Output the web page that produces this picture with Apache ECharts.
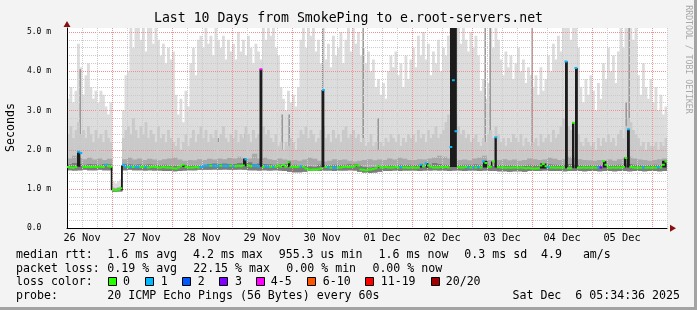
<!DOCTYPE html>
<html><head><meta charset="utf-8">
<script src="https://cdn.jsdelivr.net/npm/echarts@6/dist/echarts.min.js"></script>
<style>html,body{margin:0;padding:0;background:#f3f3f3}#c{width:697px;height:310px}</style>
</head><body><div id="c"></div>
<script>
// ---- time axis: hours relative to 27 Nov 00:00 ----
const startHour = -18;           // 26 Nov 06:00
const endHour = 222;             // 06 Dec 06:00
const dayLabels = ['26 Nov','27 Nov','28 Nov','29 Nov','30 Nov','01 Dec','02 Dec','03 Dec','04 Dec','05 Dec'];
const yTickLabels = ['0.0  ','1.0 m','2.0 m','3.0 m','4.0 m','5.0 m'];

// ---- smoke: hourly upper envelope (max of 20 pings), ms ----
const smokeMax = [
 3.3,3.6,3.2,3.5,4.7,4.1,3.4,3.9,4.2,3.6,3.3,3.5,3.2,3.5,3.4,3.1,2.9,3.2,
 1.2,1.15,1.2,1.25,3.0,3.9,4.0,5.1,4.6,5.1,5.1,4.8,5.1,4.5,5.1,5.1,4.7,5.1,4.8,4.4,4.7,4.2,4.6,4.3,
 4.5,3.4,2.9,3.3,2.7,3.5,3.1,4.2,4.6,3.9,4.8,4.9,4.6,5.1,4.7,4.9,4.4,5.1,4.8,4.6,4.9,4.3,4.8,4.5,
 4.7,4.3,5.0,4.5,4.8,4.4,4.9,4.6,4.2,4.7,4.5,4.3,5.1,4.8,5.1,4.9,5.1,4.6,4.4,3.6,3.3,3.0,3.5,3.2,
 3.4,3.1,3.6,4.8,5.1,4.6,5.1,4.9,5.1,4.5,4.8,4.2,5.1,4.3,4.7,4.1,4.9,4.4,4.6,5.0,4.2,4.8,5.1,4.5,
 5.1,4.7,5.0,4.4,4.6,4.2,4.5,4.0,4.3,3.6,3.8,3.4,3.7,3.3,4.0,4.4,4.1,4.5,3.9,4.2,3.6,4.4,3.8,4.3,
 4.6,4.1,4.9,4.4,5.0,4.3,4.7,3.9,4.5,4.2,4.8,4.0,4.6,4.4,4.9,5.1,5.1,5.1,5.1,4.7,5.1,4.8,4.5,5.0,
 4.6,4.9,4.4,3.5,3.8,3.3,3.7,5.1,4.6,5.1,4.8,4.3,3.9,4.5,4.1,4.4,3.8,4.2,4.6,4.0,4.3,3.7,4.1,3.9,
 3.6,3.9,3.4,4.1,3.5,3.8,4.4,4.0,4.7,4.3,4.9,4.5,5.1,5.1,5.1,4.8,5.1,5.1,4.6,3.6,3.2,3.8,3.4,3.9,
 3.5,3.0,3.7,3.3,4.2,3.8,4.6,4.0,4.4,3.7,4.5,5.1,4.6,5.1,5.1,5.1,4.8,5.1,3.9,3.4,4.2,3.6,3.3,3.8,
 3.2,3.6,3.0,3.4,2.9,3.1
];
// hourly top of the denser smoke band
const smokeHi = [
 2.4,2.6,2.3,2.5,2.7,2.4,2.5,2.3,2.6,2.4,2.2,2.5,2.3,2.4,2.2,2.5,2.3,2.2,
 1.05,1.03,1.05,1.08,2.3,2.5,2.6,2.4,2.8,2.5,2.3,2.6,2.4,2.7,2.3,2.5,2.4,2.2,2.6,2.3,2.4,2.2,2.5,2.3,
 2.2,2.1,2.3,2.0,2.2,2.4,2.1,2.3,2.5,2.2,2.4,2.6,2.3,2.5,2.2,2.4,2.3,2.5,2.2,2.4,2.6,2.3,2.2,2.4,
 2.3,2.5,2.2,2.4,2.3,2.6,2.4,2.2,2.5,2.3,2.4,2.2,2.6,2.4,2.5,2.3,2.2,2.4,2.1,2.2,2.0,2.2,2.1,2.3,
 2.2,2.0,2.3,2.5,2.4,2.6,2.3,2.5,2.4,2.2,2.3,2.5,2.6,2.3,2.4,2.2,2.5,2.3,2.4,2.2,2.5,2.6,2.3,2.4,
 2.5,2.3,2.4,2.2,2.3,2.1,2.2,2.4,2.1,2.2,2.0,2.2,2.1,2.3,2.2,2.4,2.3,2.2,2.4,2.1,2.3,2.2,2.4,2.3,
 2.4,2.2,2.5,2.3,2.4,2.2,2.5,2.3,2.4,2.6,2.3,2.4,2.5,2.7,2.9,2.8,3.0,2.9,2.6,2.4,2.5,2.3,2.4,2.2,
 2.3,2.4,2.2,2.1,2.3,2.2,2.4,2.5,2.3,2.6,2.4,2.2,2.3,2.1,2.3,2.2,2.4,2.3,2.2,2.4,2.1,2.3,2.2,2.1,
 2.2,2.3,2.1,2.4,2.2,2.3,2.4,2.2,2.5,2.3,2.4,2.6,2.8,2.7,2.6,2.5,2.6,2.7,2.4,2.2,2.1,2.3,2.2,2.1,
 2.2,2.0,2.3,2.1,2.3,2.2,2.4,2.2,2.3,2.1,2.4,2.5,2.3,2.6,2.8,2.7,2.5,2.4,2.3,2.1,2.2,2.0,2.2,2.1,
 2.1,2.2,2.0,2.2,2.1,2.3
];
// 2-hourly bands
const smokeMid = [
 1.78,1.85,1.8,1.76,1.8,1.75,1.78,1.74,1.77, 1.02,1.04,
 1.76,1.8,1.75,1.78,1.74,1.77,1.75,1.73,1.76,1.78,
 1.8,1.75,1.72,1.74,1.73,1.76,1.74,1.77,1.75,1.78,1.76,1.79,
 1.78,1.82,1.76,1.78,1.9,1.78,1.8,1.76,1.74,1.78,1.75,1.73,
 1.74,1.72,1.75,1.8,1.77,1.72,1.7,1.72,1.76,1.74,1.75,1.72,
 1.7,1.72,1.74,1.76,1.73,1.75,1.74,1.78,1.75,1.8,1.77,1.74,
 1.74,1.76,1.75,1.78,1.8,1.85,1.82,1.78,1.76,1.74,1.75,1.73,
 1.78,1.8,1.85,1.74,1.72,1.74,1.76,1.73,1.75,1.72,1.74,1.78,
 1.76,1.74,1.75,1.8,1.77,1.74,1.76,1.82,1.8,1.76,1.74,1.73,
 1.72,1.74,1.73,1.75,1.72,1.76,1.8,1.82,1.78,1.75,1.74,1.72,
 1.74,1.76,1.78
];
const smokeDark = [
 1.63,1.66,1.64,1.62,1.64,1.63,1.62,1.64,1.63, 1.0,1.01,
 1.64,1.63,1.62,1.63,1.62,1.63,1.62,1.61,1.62,1.6,
 1.6,1.58,1.61,1.6,1.61,1.6,1.62,1.64,1.65,1.64,1.65,1.64,
 1.64,1.66,1.65,1.68,1.64,1.65,1.64,1.63,1.62,1.63,1.64,1.62,
 1.62,1.6,1.59,1.58,1.57,1.62,1.61,1.6,1.62,1.61,1.62,1.63,
 1.63,1.6,1.56,1.55,1.56,1.57,1.6,1.61,1.6,1.62,1.61,1.62,
 1.61,1.62,1.61,1.62,1.66,1.64,1.62,1.61,1.62,1.61,1.62,1.62,
 1.63,1.62,1.64,1.61,1.6,1.61,1.6,1.61,1.6,1.59,1.6,1.62,
 1.61,1.6,1.61,1.63,1.62,1.61,1.62,1.64,1.62,1.61,1.6,1.61,
 1.6,1.61,1.62,1.6,1.61,1.62,1.63,1.64,1.62,1.61,1.6,1.61,
 1.62,1.61,1.64
];
const smokeMin = [
 1.48,1.47,1.48,1.49,1.48,1.48,1.49,1.48,1.48, 0.93,0.94,
 1.48,1.49,1.48,1.48,1.47,1.48,1.47,1.47,1.46,1.46,
 1.45,1.46,1.47,1.48,1.48,1.49,1.49,1.49,1.5,1.49,1.5,1.49,
 1.49,1.5,1.49,1.48,1.48,1.47,1.48,1.47,1.48,1.47,1.46,1.44,
 1.43,1.43,1.44,1.46,1.47,1.46,1.47,1.47,1.46,1.47,1.47,1.48,
 1.47,1.44,1.42,1.41,1.42,1.44,1.46,1.46,1.47,1.46,1.47,1.47,
 1.47,1.46,1.47,1.47,1.48,1.47,1.47,1.46,1.47,1.47,1.46,1.47,
 1.47,1.46,1.47,1.46,1.46,1.45,1.45,1.44,1.45,1.45,1.44,1.46,
 1.46,1.46,1.47,1.46,1.46,1.46,1.45,1.46,1.46,1.46,1.45,1.46,
 1.46,1.45,1.46,1.46,1.45,1.46,1.46,1.45,1.46,1.46,1.45,1.46,
 1.46,1.45,1.46
];
// ---- median rtt, hourly, ms ----
const medianRtt = [
 1.56,1.55,1.54,1.56,1.95,1.92,1.57,1.56,1.57,1.56,1.57,1.56,1.57,1.57,1.56,1.62,1.58,1.57,
 0.98,0.97,0.98,1.02,1.62,1.57,1.56,1.57,1.56,1.57,1.57,1.56,1.57,1.56,1.55,1.56,1.57,1.56,1.55,1.55,1.56,1.55,1.55,1.54,
 1.53,1.52,1.55,1.58,1.62,1.56,1.55,1.55,1.55,1.56,1.55,1.56,1.58,1.59,1.59,1.59,1.59,1.58,1.59,1.59,1.59,1.58,1.59,1.59,
 1.58,1.58,1.59,1.58,1.6,1.75,1.6,1.58,1.59,1.59,1.58,4.05,1.57,1.58,1.57,1.57,1.57,1.57,1.6,1.57,1.61,1.57,1.68,1.57,
 1.57,1.56,1.57,1.58,1.57,1.52,1.5,1.49,1.5,1.5,1.5,1.52,3.52,1.56,1.55,1.54,1.55,1.54,1.55,1.55,1.56,1.57,1.56,1.57,
 1.57,1.6,1.59,1.5,1.49,1.48,1.49,1.5,1.51,1.53,1.58,1.55,1.55,1.56,1.55,1.55,1.55,1.56,1.55,1.56,1.55,1.55,1.54,1.55,
 1.55,1.54,1.55,1.62,1.58,1.65,1.6,1.57,1.55,1.55,1.55,1.56,1.55,1.56,1.55,2.07,3.77,2.47,1.56,1.55,1.55,1.56,1.55,1.55,
 1.55,1.55,1.56,1.55,1.7,1.66,1.56,1.57,1.7,2.32,1.56,1.55,1.55,1.54,1.55,1.54,1.55,1.55,1.54,1.55,1.54,1.53,1.54,1.53,
 1.52,1.52,1.53,1.6,1.64,1.58,1.56,1.55,1.55,1.54,1.55,1.54,1.55,4.25,1.53,1.53,2.69,4.08,1.54,1.54,1.55,1.54,1.55,1.54,
 1.55,1.54,1.55,1.55,1.71,1.62,1.55,1.54,1.55,1.54,1.55,1.54,1.56,1.79,2.52,1.56,1.55,1.54,1.55,1.54,1.55,1.54,1.55,1.54,
 1.55,1.54,1.56,1.55,1.62,1.7
];
// hour index -> loss colour class (all others are class 0)
const lossPoints = [
 [4,1],[5,1],[15,1],[22,1],[23,1],[25,1],[27,1],[28,1],[31,1],
 [53,1],[54,1],[55,1],[56,1],[58,1],[59,1],[60,1],[62,1],[63,1],[64,1],[66,1],
 [71,1],[74,1],[75,1],[76,1],[77,4],[79,1],[80,1],[82,1],
 [93,1],[102,1],[104,1],[106,1],[107,1],[133,1],[141,1],[143,1],
 [153,1],[154,1],[155,1],[160,1],[162,1],[164,1],[166,1],[171,1],
 [192,1],[199,1],[203,1],[212,1],[213,3],[224,1],[230,1],[236,1]
];
// dark smoke columns: [fromHour, toHour, low, high]
const darkSpikes = [
 [-14,-12.8,1.57,1.95],[-0.5,0,0.97,1.57],[3.6,4.2,0.97,1.6],[28,29.2,1.56,1.62],
 [52.4,53.6,1.58,1.78],[59,60,1.57,4.05],[68,68.4,1.56,1.62],[70.4,71.2,1.56,1.7],
 [83.8,84.8,1.56,3.52],[97.6,98.4,1.56,1.62],[106.4,106.8,1.55,1.6],[123.2,124,1.55,1.64],
 [125.6,126.4,1.55,1.66],[135.2,137.8,1.56,5.1],[148.4,150,1.55,1.72],[151.6,152,1.55,1.7],
 [153,153.8,1.55,2.32],[171.2,173.6,1.52,1.65],[181.2,182.2,1.53,4.25],[184,184.8,1.53,2.69],
 [185.2,186.2,1.53,4.08],[196.4,197.6,1.55,1.71],[204.8,205.6,1.55,1.8],[206,207,1.55,2.52],
 [220,221.6,1.55,1.72]
];
// thin grey streaks: [hour, top]
const streaks = [
 [-12.8,4.05],[42.4,2.3],[53.2,2.4],[68,2.9],[70.8,2.9],[84.2,5.1],[100.4,5.1],[106.4,2.8],
 [149.2,5.1],[151.2,5.1],[168,5.1],[205.6,3.2],[206.8,5.1]
];
const lossColors = ['#26ff00','#00b8ff','#0059ff','#7e00ff','#ff00ff','#ff5500','#ff0000','#a10000'];
const lossLabels = ['0','1','2','3','4-5','6-10','11-19','20/20'];

// ---- build series data ----
const lossClass = medianRtt.map(() => 0);
lossPoints.forEach(p => { lossClass[p[0]] = p[1]; });
const hourly = (arr) => arr.map((v, i) => [startHour + i, startHour + i + 1, smokeMin[Math.floor(i / 2)], v]);
const twoHourly = (arr) => arr.map((v, i) => [startHour + 2 * i, startHour + 2 * i + 2, smokeMin[i], v]);
const streakData = streaks.map(s => [s[0] - 0.2, s[0] + 0.2, smokeMin[Math.floor((s[0] - startHour) / 2)], s[1]]);
const medianData = medianRtt.map((v, i) => [startHour + i, startHour + i + 1, v, lossClass[i]]);

const MONO = '"DejaVu Sans Mono", monospace';
function rangeSeries(data, color, z) {
  return {
    type: 'custom', data: data, z: z, silent: true, clip: true,
    encode: { x: [0, 1], y: [2, 3] },
    renderItem: function (params, api) {
      const a = api.coord([api.value(0), api.value(3)]);
      const b = api.coord([api.value(1), api.value(2)]);
      return { type: 'rect', shape: { x: a[0], y: a[1], width: b[0] - a[0] + 0.35, height: b[1] - a[1] }, style: { fill: color } };
    }
  };
}
const medianSeries = {
  type: 'custom', data: medianData, z: 10, silent: true, clip: true,
  encode: { x: [0, 1], y: [2] },
  renderItem: function (params, api) {
    const a = api.coord([api.value(0), api.value(2)]);
    const b = api.coord([api.value(1), api.value(2)]);
    return { type: 'rect', shape: { x: a[0], y: a[1] - 1, width: b[0] - a[0] + 0.3, height: 2 }, style: { fill: lossColors[api.value(3)] } };
  }
};

// ---- text / legend graphics ----
function txt(x, y, s, opts) {
  opts = opts || {};
  return { type: 'text', x: x, y: y, rotation: opts.rot || 0, z: 100,
    style: { text: s, fill: opts.fill || '#000', font: (opts.size || 11.6) + 'px ' + MONO,
      align: opts.align || 'left', textAlign: opts.align || 'left', verticalAlign: 'middle', textVerticalAlign: 'middle' } };
}
const L1 = 255, L2 = 268.5, L3 = 282, L4 = 296;
const graphics = [
  { type: 'rect', shape: { x: 694, y: 0, width: 3, height: 310 }, style: { fill: '#a3a3a3' }, z: 100 },
  { type: 'rect', shape: { x: 0, y: 307, width: 697, height: 3 }, style: { fill: '#a3a3a3' }, z: 100 },
  txt(348.5, 19, 'Last 10 Days from SmokePing to e.root-servers.net', { align: 'center', size: 13.2 }),
  txt(10.5, 127.5, 'Seconds', { align: 'center', rot: Math.PI / 2 }),
  txt(688, 59.5, 'RRDTOOL / TOBI OETIKER', { align: 'center', rot: -Math.PI / 2, size: 8.2, fill: '#a8a8a8' }),
  txt(16, L1, 'median rtt:'), txt(107.3, L1, '1.6 ms avg'), txt(193, L1, '4.2 ms max'),
  txt(278.7, L1, '955.3 us min'), txt(378.6, L1, '1.6 ms now'), txt(464.3, L1, '0.3 ms sd'), txt(541, L1, '4.9   am/s'),
  txt(16, L2, 'packet loss:'), txt(107.3, L2, '0.19 % avg'), txt(193.2, L2, '22.15 % max'),
  txt(286.3, L2, '0.00 % min'), txt(372.4, L2, '0.00 % now'),
  txt(16, L3, 'loss color:'),
  txt(16, L4, 'probe:'), txt(107.3, L4, '20 ICMP Echo Pings (56 Bytes) every 60s'),
  txt(680, L4, 'Sat Dec  6 05:34:36 2025', { align: 'right' })
];
const boxX = [108.5, 145.5, 182.5, 219.5, 256.5, 307.5, 365.5, 431.5];
const labX = [123, 160.7, 197.7, 235, 270.7, 322.7, 380.7, 445.7];
lossLabels.forEach((l, i) => {
  graphics.push({ type: 'rect', z: 100, shape: { x: boxX[i], y: 277.5, width: 8, height: 8 }, style: { fill: lossColors[i], stroke: '#000', lineWidth: 1 } });
  graphics.push(txt(labX[i], L3, l));
});

const chart = echarts.init(document.getElementById('c'), null, { renderer: 'canvas' });
chart.setOption({
  animation: false,
  backgroundColor: '#f3f3f3',
  grid: { left: 67, right: 30, top: 28, bottom: 81.7, show: true, backgroundColor: '#ffffff', borderWidth: 0 },
  xAxis: [{
    type: 'value', min: startHour, max: endHour, interval: 6, z: 5,
    axisLine: { show: true, onZero: false, lineStyle: { color: '#000', width: 1 } },
    axisTick: { show: false },
    axisLabel: { margin: 5, color: '#000', fontFamily: MONO, fontSize: 10.3,
      formatter: v => { const r = ((v % 24) + 24) % 24; return r === 12 ? (dayLabels[(v + 12) / 24] || '') : ''; } },
    splitLine: { show: true, lineStyle: { color: ['#cccccc', '#cccccc', '#cccccc', '#f29090'], type: [1, 1], width: 1 } }
  }, {
    type: 'value', min: startHour, max: endHour, position: 'bottom', z: 6,
    axisLine: { show: true, onZero: false, symbol: ['none', 'triangle'], symbolSize: [7, 6], symbolOffset: [0, 6], lineStyle: { color: '#8a1010', width: 0 } },
    axisTick: { show: false }, axisLabel: { show: false }, splitLine: { show: false }
  }],
  yAxis: [{
    type: 'value', min: 0, max: 5.1, interval: 0.2, z: 5,
    axisLine: { show: true, onZero: false, lineStyle: { color: '#000', width: 1 } },
    axisTick: { show: false },
    axisLabel: { margin: 16, color: '#000', fontFamily: MONO, fontSize: 8,
      formatter: v => { const r = Math.round(v); return (Math.abs(v - r) < 1e-6 && r <= 5) ? yTickLabels[r] : ''; } },
    splitLine: { show: true, showMaxLine: false, lineStyle: { color: ['#f29090', '#cccccc', '#cccccc', '#cccccc', '#cccccc'], type: [1, 1], width: 1 } }
  }, {
    type: 'value', min: 0, max: 5.1, position: 'left', z: 6,
    axisLine: { show: true, onZero: false, symbol: ['none', 'triangle'], symbolSize: [7, 6], symbolOffset: [0, 4], lineStyle: { color: '#8a1010', width: 0 } },
    axisTick: { show: false }, axisLabel: { show: false }, splitLine: { show: false }
  }],
  graphic: graphics,
  series: [
    rangeSeries(hourly(smokeMax), '#dcdcdc', 2),
    rangeSeries(streakData, '#8c8c8c', 2),
    rangeSeries(hourly(smokeHi), '#c9c9c9', 2),
    rangeSeries(twoHourly(smokeMid), '#a9a9a9', 2),
    rangeSeries(twoHourly(smokeDark), '#7c7c7c', 2),
    rangeSeries(darkSpikes, '#1c1c1c', 7),
    medianSeries
  ]
});
</script></body></html>
